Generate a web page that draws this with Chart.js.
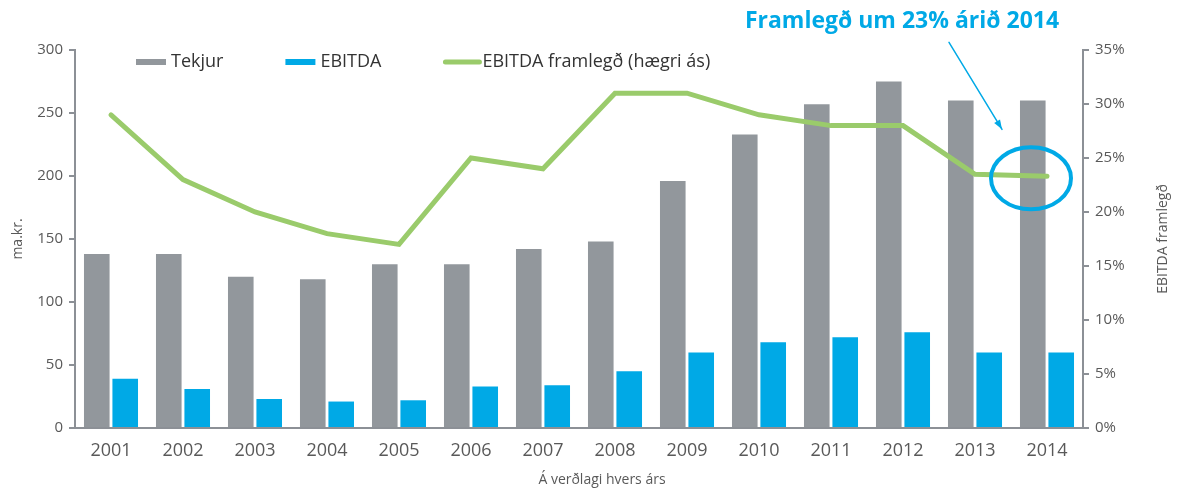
<!DOCTYPE html>
<html>
<head>
<meta charset="utf-8">
<script src="https://cdn.jsdelivr.net/npm/chart.js@4/dist/chart.umd.min.js"></script>
<style>
  html, body { margin: 0; padding: 0; background: #fff; }
  #wrap { width: 1182px; height: 491px; position: relative; }
</style>
</head>
<body>
<div id="wrap"><canvas id="myChart"></canvas></div>
<script>
// gögn
const years = ["2001", "2002", "2003", "2004", "2005", "2006", "2007", "2008", "2009", "2010", "2011", "2012", "2013", "2014"];
const tekjur = [138, 138, 120, 118, 130, 130, 142, 148, 196, 233, 257, 275, 260, 260];
const ebitda = [39, 31, 23, 21, 22, 33, 34, 45, 60, 68, 72, 76, 60, 60];
const framlegd = [29, 23, 20, 18, 17, 25, 24, 31, 31, 29, 28, 28, 23.5, 23.3]; // %
const seriesNames = ["Tekjur", "EBITDA", "EBITDA framlegð (hægri ás)"];
const leftTitle = "ma.kr.";
const rightTitle = "EBITDA framlegð";
const bottomTitle = "Á verðlagi hvers árs";
const callout = "Framlegð um 23% árið 2014";

const GRAY = "#92979c";
const BLUE = "#00a9e6";
const GREEN = "#9acb6b";
const AXIS = "#8c9096";
const TXT = "#595959";
const FONT = '"Open Sans", "Noto Sans", sans-serif';

// teikna skýringar, ásatitla og ábendingu
const deco = {
  id: "deco",
  afterDraw(chart) {
    const { ctx, chartArea, scales } = chart;
    ctx.save();

    // legend
    ctx.font = "18px " + FONT;
    ctx.textBaseline = "middle";
    const ly = chartArea.top + 12;
    let lx = chartArea.left + 61;
    const kinds = ["bar", "bar", "line"];
    const cols = [GRAY, BLUE, GREEN];
    seriesNames.forEach((name, i) => {
      if (kinds[i] === "bar") {
        ctx.fillStyle = cols[i];
        ctx.fillRect(lx, ly - 3, 30, 6);
        lx += 35;
      } else {
        ctx.strokeStyle = cols[i];
        ctx.lineWidth = 5;
        ctx.lineCap = "round";
        ctx.beginPath();
        ctx.moveTo(lx + 2, ly);
        ctx.lineTo(lx + 36, ly);
        ctx.stroke();
        lx += 39;
      }
      ctx.fillStyle = "#333";
      ctx.textAlign = "left";
      ctx.fillText(name, lx, ly);
      lx += ctx.measureText(name).width + 62;
    });

    // ásatitlar
    ctx.fillStyle = TXT;
    ctx.font = "14px " + FONT;
    ctx.textAlign = "center";
    const midY = (chartArea.top + chartArea.bottom) / 2;
    ctx.save();
    ctx.translate(18, midY);
    ctx.rotate(-Math.PI / 2);
    ctx.fillText(leftTitle, 0, 0);
    ctx.restore();
    ctx.save();
    ctx.translate(1163, midY);
    ctx.rotate(-Math.PI / 2);
    ctx.fillText(rightTitle, 0, 0);
    ctx.restore();
    ctx.fillText(bottomTitle, 602, 480);

    // ábending: hringur um 2014
    const last = years.length - 1;
    const cx = scales.x.getPixelForValue(last) - 16;
    const cy = scales.y1.getPixelForValue(framlegd[last]) + 2;
    ctx.strokeStyle = BLUE;
    ctx.lineWidth = 4;
    ctx.beginPath();
    ctx.ellipse(cx, cy, 40, 31, 0, 0, Math.PI * 2);
    ctx.stroke();

    // ör
    const x0 = cx - 82, y0 = cy - 136, x1 = cx - 29, y1 = cy - 49;
    ctx.lineWidth = 1.5;
    ctx.beginPath();
    ctx.moveTo(x0, y0);
    ctx.lineTo(x1, y1);
    ctx.stroke();
    const ang = Math.atan2(y1 - y0, x1 - x0);
    ctx.fillStyle = BLUE;
    ctx.beginPath();
    ctx.moveTo(x1, y1);
    ctx.lineTo(x1 - 10 * Math.cos(ang - 0.35), y1 - 10 * Math.sin(ang - 0.35));
    ctx.lineTo(x1 - 10 * Math.cos(ang + 0.35), y1 - 10 * Math.sin(ang + 0.35));
    ctx.closePath();
    ctx.fill();

    // fyrirsögn
    ctx.font = "bold 23px " + FONT;
    ctx.textAlign = "center";
    ctx.fillText(callout, 902, 21);

    ctx.restore();
  },
};

const ctx = document.getElementById("myChart").getContext("2d");
const myChart = new Chart(ctx, {
  type: "bar",
  data: {
    labels: years,
    datasets: [
      {
        type: "line",
        label: seriesNames[2],
        data: framlegd,
        yAxisID: "y1",
        borderColor: GREEN,
        borderWidth: 5,
        pointRadius: 0,
        tension: 0,
        borderCapStyle: "round",
        order: 0,
      },
      {
        label: seriesNames[0],
        data: tekjur,
        yAxisID: "y",
        backgroundColor: GRAY,
        categoryPercentage: 0.79,
        barPercentage: 0.9,
        order: 1,
      },
      {
        label: seriesNames[1],
        data: ebitda,
        yAxisID: "y",
        backgroundColor: BLUE,
        categoryPercentage: 0.79,
        barPercentage: 0.9,
        order: 2,
      },
    ],
  },
  options: {
    responsive: true,
    maintainAspectRatio: false,
    animation: false,
    layout: { padding: { top: 50, left: 0, right: 0, bottom: 0 } },
    plugins: {
      legend: { display: false },
      tooltip: { enabled: false },
    },
    scales: {
      x: {
        grid: { drawOnChartArea: false, drawTicks: false },
        border: { display: true, color: AXIS, width: 2 },
        ticks: { color: TXT, font: { family: FONT, size: 18 }, padding: 12 },
        afterFit: (s) => { s.height = 63; },
      },
      y: {
        position: "left",
        min: 0,
        max: 300,
        ticks: { stepSize: 50, color: TXT, font: { family: FONT, size: 15 }, padding: 6 },
        grid: { drawOnChartArea: false, drawTicks: true, tickLength: 6, color: AXIS, lineWidth: 2 },
        border: { display: true, color: AXIS, width: 2 },
        afterFit: (s) => { s.width = 75; },
      },
      y1: {
        position: "right",
        min: 0,
        max: 35,
        ticks: {
          stepSize: 5,
          color: TXT,
          font: { family: FONT, size: 15 },
          padding: 6,
          callback: (v) => v + "%",
        },
        grid: { drawOnChartArea: false, drawTicks: true, tickLength: 6, color: AXIS, lineWidth: 2 },
        border: { display: true, color: AXIS, width: 2 },
        afterFit: (s) => { s.width = 99; },
      },
    },
  },
  plugins: [deco],
});
</script>
</body>
</html>
